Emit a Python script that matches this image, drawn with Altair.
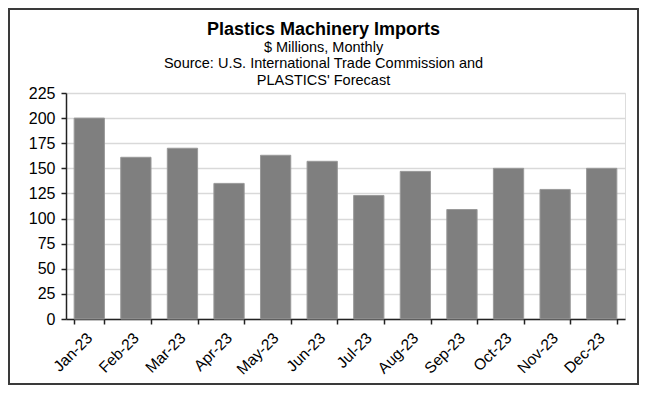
import altair as alt
import pandas as pd

months = ["Jan-23", "Feb-23", "Mar-23", "Apr-23", "May-23", "Jun-23",
          "Jul-23", "Aug-23", "Sep-23", "Oct-23", "Nov-23", "Dec-23"]
imports = [200, 161, 170, 135, 163, 157, 123, 147, 109, 150, 129, 150]
y_ticks = [0, 25, 50, 75, 100, 125, 150, 175, 200, 225]

title_text = "Plastics Machinery Imports"
subtitle_lines = ["$ Millions, Monthly",
                  "Source: U.S. International Trade Commission and",
                  "PLASTICS' Forecast"]

FONT = "Liberation Sans"
W, H = 559, 226
PL, PT, PR, PB = 58, 85, 14, 66

df = pd.DataFrame({"month": months, "value": imports})

bars = alt.Chart(df).mark_bar(
    color="#7f7f7f", stroke="#9a9a9a", strokeWidth=1
).encode(
    x=alt.X("month:N", sort=months, title=None,
            scale=alt.Scale(paddingInner=0.35, paddingOuter=0.175),
            axis=alt.Axis(labelAngle=-45, labelAlign="right", labelBaseline="middle",
                          labelFontSize=15.5, labelColor="#000000", labelFont=FONT,
                          labelPadding=11, tickBand="extent", tickSize=5,
                          tickColor="#222222", tickWidth=1.5,
                          domainColor="#222222", domainWidth=1.5, grid=False)),
    y=alt.Y("value:Q", title=None,
            scale=alt.Scale(domain=[0, 225], nice=False),
            axis=alt.Axis(values=y_ticks, labelFontSize=16, labelColor="#000000",
                          labelFont=FONT, labelPadding=6, tickSize=5,
                          tickColor="#222222", tickWidth=1.5,
                          domainColor="#222222", domainWidth=1.5,
                          grid=True, gridColor="#d9d9d9", gridWidth=1.5)),
)

frame_df = pd.DataFrame({"k": [0]})
frame = alt.Chart(frame_df).mark_rect(
    fill=None, stroke="#3a3a3a", strokeWidth=2, clip=False
).encode(
    x=alt.value(-PL + 1), x2=alt.value(W + PR - 1),
    y=alt.value(-PT + 1), y2=alt.value(H + PB - 1),
)

chart = alt.layer(frame, bars).properties(
    width=W, height=H,
    autosize=alt.AutoSizeParams(type="none"),
    padding={"left": PL, "top": PT, "right": PR, "bottom": PB},
    title=alt.TitleParams(
        text=title_text, subtitle=subtitle_lines,
        anchor="middle", frame="group", dx=-22,
        font=FONT, fontSize=18, fontWeight="bold", color="#000000",
        subtitleFont=FONT, subtitleFontSize=14.5, subtitleColor="#000000",
        subtitleLineHeight=16.5, subtitlePadding=2, offset=-79,
    ),
).configure_view(stroke=None).configure(background="#ffffff")

chart.save("out.html", embed_options={"renderer": "svg", "actions": False})
